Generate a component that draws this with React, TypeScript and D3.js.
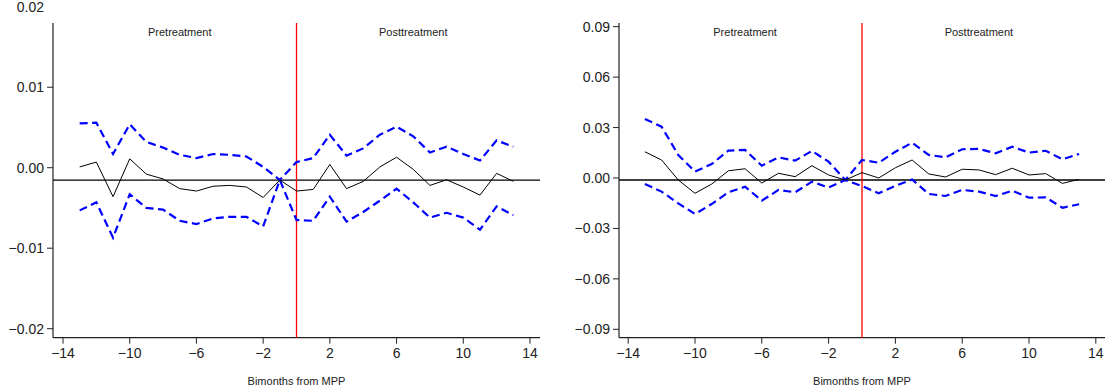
import React from "react";
import * as d3 from "d3";

// Event time (bimonths relative to MPP)
const periods = [-13, -12, -11, -10, -9, -8, -7, -6, -5, -4, -3, -2, -1, 0, 1, 2, 3, 4, 5, 6, 7, 8, 9, 10, 11, 12, 13];

// Panel A: point estimates and 95% bounds
const estA = [0.0001, 0.0007, -0.0036, 0.0011, -0.0008, -0.0014, -0.0026, -0.0029, -0.0023, -0.0022, -0.0024, -0.0037, -0.00153, -0.0029, -0.0027, 0.0004, -0.0026, -0.0017, 0.0001, 0.0013, -0.0002, -0.0022, -0.0015, -0.0024, -0.0034, -0.0007, -0.0017];
const upA = [0.0055, 0.0056, 0.0017, 0.0054, 0.0032, 0.0025, 0.0016, 0.0012, 0.0017, 0.0016, 0.0014, 0.0001, -0.00153, 0.0007, 0.0012, 0.0041, 0.0015, 0.0024, 0.0041, 0.0051, 0.0039, 0.0019, 0.0026, 0.0017, 0.0009, 0.0034, 0.0026];
const loA = [-0.0053, -0.0043, -0.0087, -0.0033, -0.0050, -0.0052, -0.0066, -0.0070, -0.0063, -0.0061, -0.0061, -0.0073, -0.00153, -0.0065, -0.0066, -0.0036, -0.0067, -0.0055, -0.0041, -0.0026, -0.0043, -0.0062, -0.0056, -0.0062, -0.0077, -0.0048, -0.0059];
const refA = -0.00153;
const yTicksA = [-0.02, -0.01, 0.0, 0.01, 0.02];

// Panel B: point estimates and 95% bounds
const estB = [0.0156, 0.0107, -0.0012, -0.0091, -0.0036, 0.0043, 0.0055, -0.0030, 0.0028, 0.0008, 0.0073, 0.0018, -0.0012, 0.0032, 0.0000, 0.0061, 0.0107, 0.0024, 0.0006, 0.0052, 0.0048, 0.0020, 0.0058, 0.0018, 0.0026, -0.0032, -0.0008];
const upB = [0.0351, 0.0305, 0.0137, 0.0038, 0.0083, 0.0163, 0.0167, 0.0073, 0.0123, 0.0103, 0.0161, 0.0097, -0.0012, 0.0107, 0.0091, 0.0156, 0.0210, 0.0137, 0.0123, 0.0171, 0.0173, 0.0147, 0.0186, 0.0151, 0.0162, 0.0111, 0.0143];
const loB = [-0.0036, -0.0081, -0.0151, -0.0214, -0.0155, -0.0085, -0.0052, -0.0135, -0.0071, -0.0085, -0.0022, -0.0057, -0.0012, -0.0048, -0.0091, -0.0046, -0.0009, -0.0095, -0.0107, -0.0071, -0.0081, -0.0107, -0.0076, -0.0117, -0.0115, -0.0177, -0.0156];
const refB = -0.0012;
const yTicksB = [-0.09, -0.06, -0.03, 0.0, 0.03, 0.06, 0.09];

const xTicks = [-14, -10, -6, -2, 2, 6, 10, 14];
const treatmentAt = 0;
const xTitle = "Bimonths from MPP";
const preLabel = "Pretreatment";
const postLabel = "Posttreatment";

const FONT = "Arial, 'Liberation Sans', Helvetica, sans-serif";

type PanelProps = {
  left: number;
  right: number;
  xDomain: [number, number];
  yDomain: [number, number];
  est: number[];
  up: number[];
  lo: number[];
  refLine: number;
  yTicks: number[];
  fmt: (v: number) => string;
};

const TOP = 23;
const BOTTOM = 337.7;

function Panel({ left, right, xDomain, yDomain, est, up, lo, refLine, yTicks, fmt }: PanelProps) {
  const x = d3.scaleLinear().domain(xDomain).range([left, right]);
  const y = d3.scaleLinear().domain(yDomain).range([BOTTOM, TOP]);
  const line = (vals: number[]) =>
    d3
      .line<number>()
      .x((_, i) => x(periods[i]))
      .y((d) => y(d))(vals) || "";

  const fmtTick = (v: number) => fmt(v).replace("-", "\u2212");

  return (
    <g>
      {/* axes */}
      <line x1={left} x2={left} y1={TOP} y2={BOTTOM} stroke="#222" strokeWidth={1.2} />
      <line x1={left} x2={right} y1={BOTTOM} y2={BOTTOM} stroke="#222" strokeWidth={1.2} />
      {yTicks.map((t) => (
        <g key={"y" + t}>
          {y(t) >= TOP && (
            <line x1={left - 6} x2={left} y1={y(t)} y2={y(t)} stroke="#222" strokeWidth={1} />
          )}
          <text
            x={left - 9}
            y={y(t)}
            textAnchor="end"
            dominantBaseline="central"
            fontSize={14}
            fontFamily={FONT}
            fill="#222"
          >
            {fmtTick(t)}
          </text>
        </g>
      ))}
      {xTicks.map((t) => (
        <g key={"x" + t}>
          <line x1={x(t)} x2={x(t)} y1={BOTTOM} y2={BOTTOM + 6} stroke="#222" strokeWidth={1} />
          <text
            x={x(t)}
            y={BOTTOM + 15}
            textAnchor="middle"
            dominantBaseline="central"
            fontSize={14}
            fontFamily={FONT}
            fill="#222"
          >
            {String(t).replace("-", "\u2212")}
          </text>
        </g>
      ))}
      <text
        x={(left + right) / 2}
        y={381}
        textAnchor="middle"
        dominantBaseline="central"
        fontSize={11}
        fontFamily={FONT}
        fill="#222"
      >
        {xTitle}
      </text>

      {/* period labels */}
      <text x={x(-7)} y={32} textAnchor="middle" dominantBaseline="central" fontSize={11} fontFamily={FONT} fill="#222">
        {preLabel}
      </text>
      <text x={x(7)} y={32} textAnchor="middle" dominantBaseline="central" fontSize={11} fontFamily={FONT} fill="#222">
        {postLabel}
      </text>

      {/* reference line */}
      <line x1={left} x2={right} y1={y(refLine)} y2={y(refLine)} stroke="#000" strokeWidth={1.3} />

      {/* treatment onset */}
      <line x1={x(treatmentAt)} x2={x(treatmentAt)} y1={TOP} y2={BOTTOM} stroke="#ff0000" strokeWidth={1.3} />

      {/* confidence bounds */}
      <path d={line(up)} fill="none" stroke="#0000ff" strokeWidth={2.2} strokeDasharray="8,4.5" />
      <path d={line(lo)} fill="none" stroke="#0000ff" strokeWidth={2.2} strokeDasharray="8,4.5" />

      {/* point estimate */}
      <path d={line(est)} fill="none" stroke="#000" strokeWidth={1} />
    </g>
  );
}

export default function App() {
  return (
    <svg
      width={1107}
      height={391}
      style={{ position: "absolute", left: 0, top: 0, background: "#fff" }}
    >
      <rect width={1107} height={391} fill="#fff" />
      <Panel
        left={53}
        right={540}
        xDomain={[-14.6, 14.6]}
        yDomain={[-0.02112, 0.01798]}
        est={estA}
        up={upA}
        lo={loA}
        refLine={refA}
        yTicks={yTicksA}
        fmt={d3.format(".2f")}
      />
      <Panel
        left={619}
        right={1105}
        xDomain={[-14.55, 14.55]}
        yDomain={[-0.095, 0.0922]}
        est={estB}
        up={upB}
        lo={loB}
        refLine={refB}
        yTicks={yTicksB}
        fmt={d3.format(".2f")}
      />
    </svg>
  );
}
